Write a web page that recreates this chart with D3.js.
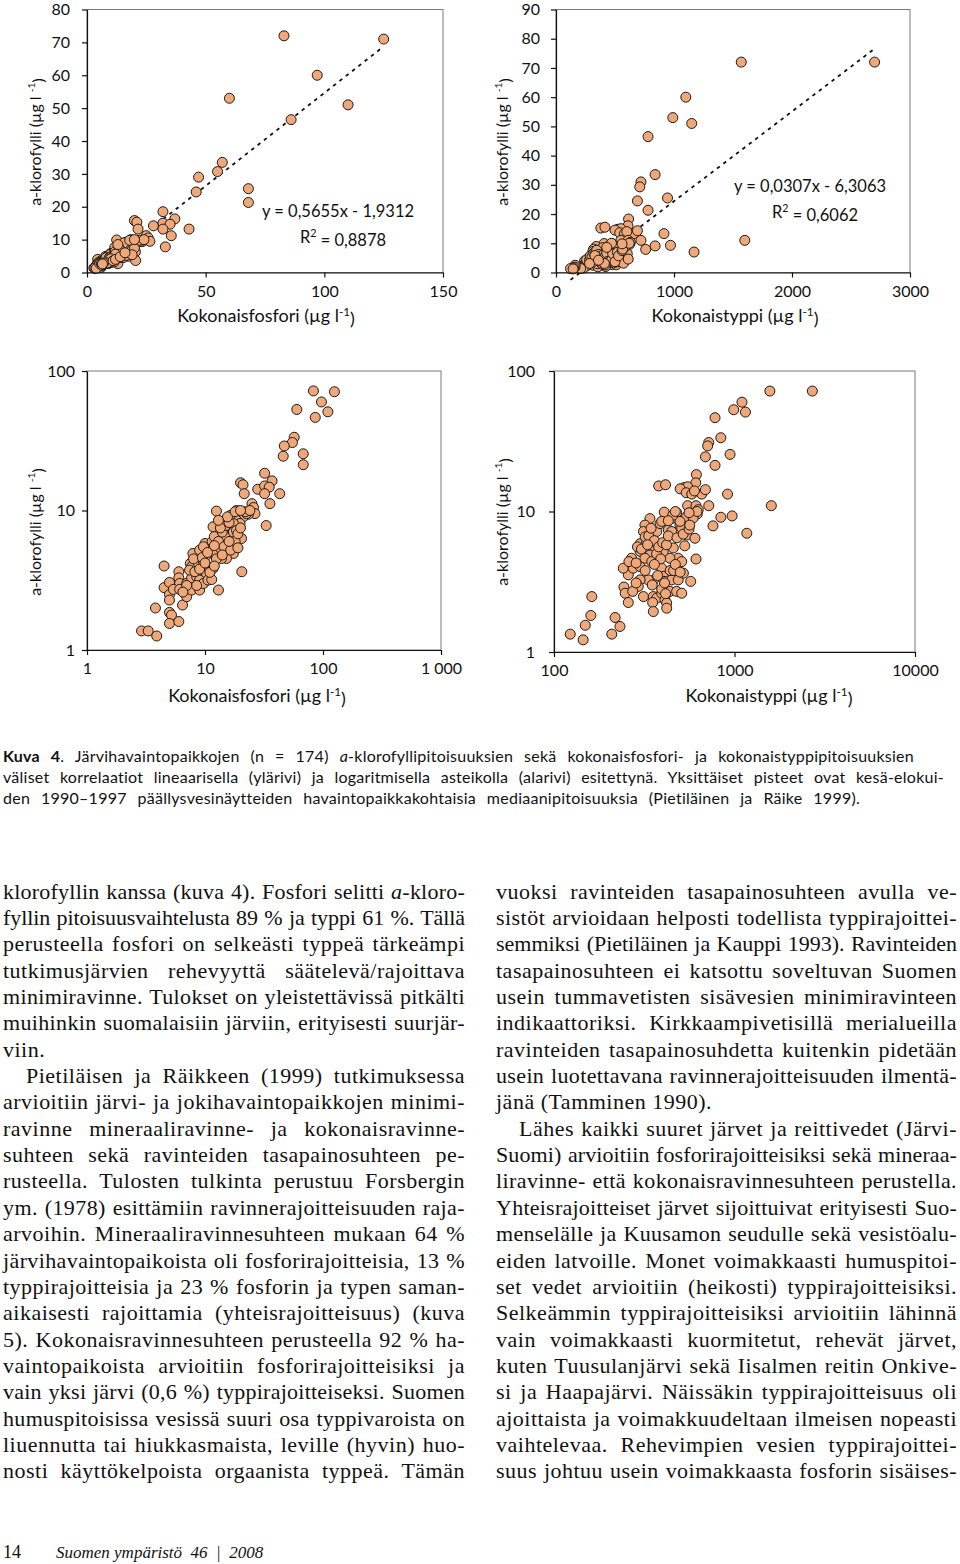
<!DOCTYPE html>
<meta charset="utf-8">
<style>
  body { margin: 0; background: #fff; }
  svg { display: block; }
</style>
<body>
<script src="https://d3js.org/d3.v7.min.js"></script>
<script>
// ---- data ----
// [kokonaisfosfori, a-klorofylli]
var tpChl = [
  [83,72],[125,71],[97,60],[60,53],[110,51],[86,46.5],[57,33.5],[55,30.7],[47,29],[46,24.5],[68,25.5],[68,21.3],
  [32,18.5],[37,16.3],[20,15.8],[21,15.3],[28,14.2],[32,15],[35,14.7],[21.5,13.2],[32,13.2],[43,13.2],[35.5,11.2],
  [25,11.2],[33,7.8],[12.5,9.9],[18.5,10],[20,9.3],[25.8,10.5],[26.5,9.5],[23.3,9.4],[21.1,9.0],
  [4.5,4.0],[4.5,2.8],[5,3.05],[5,2.5],[5,2.28],[3.8,2.0],[5,1.86],[5.2,1.78],[5,1.55],[6,1.6],[2.9,1.37],[3.3,1.37],[3.9,1.26],
  [6,3.64],[6,3.29],[6.1,3.0],[5.4,2.72],[6.1,2.72],[6.45,2.1],[7,2.41],[7.7,2.69],[7,3.0],[7.7,3.29],[7.9,4.92],[9,5.2],
  [7.5,4.17],[7.7,3.95],[8.5,3.35],[9,3.17],[9,2.69],[9.7,3.0],[10.3,3.54],[10.6,3.95],[11.7,3.84],[13,2.69],[12.7,5.26],
  [13,6.84],[11.7,7.64],[14.1,8.07],[15.2,7.43],[16.3,6.66],[17.4,5.8],[17.4,4.92],[15.2,4.53],[13.8,4.53],[17.4,9.0],
  [18.5,8.5],[19.8,8.07],[20.4,6.3],[20.5,3.64],[22.5,9.5],[17.4,8.07],[16.3,9.2],[10,5.8],[11,5.3],[11.7,4.92],[10.3,4.79],
  [8.8,4.17],[7.4,3.74],[8.2,3.64],[10.6,3.17],[9.7,4.17],[12.5,4.5],[11.4,3.2],[9.7,5.5],[13.4,5.4],[14.9,6.5],[17.4,7.0],
  [18.5,7.2],[17.9,5.7],[8,4.5],[9.5,4.6],[10.5,5.0],[11.5,6.0],[12,6.5],[13,6.0],[14,7.0],[15,7.8],[16,8.2],[14.5,5.5],
  [16.5,5.2],[18,6.0],[19,6.8],[20,7.5],[15.5,9.0],[13.5,7.5],[12,5.6],[9,3.8],[10,4.2],[8.5,2.9],[7,2.9],[6.5,2.6],
  [11,3.6],[12,4.0],[14,4.8],[18,9.8],[22,9.8],[19,5.4],[16,6.0],[24,10],[20,10],[13,8.5]
];
// [kokonaistyppi, a-klorofylli]
var tnChl = [
  [1570,72],[2700,72],[1100,60],[990,53],[1150,51],[780,46.5],[840,33.5],[720,31],[710,29.3],[945,25.5],[690,24.5],
  [780,21.3],[615,18.3],[610,16],[380,15.2],[415,15.5],[525,14.8],[550,15],[500,14.5],[540,13.6],[580,13.3],[658,13.3],
  [690,14.3],[600,14],[915,13.3],[1600,11],[720,11],[550,11],[612,11],[630,10.3],[622,9.6],[970,9.3],[840,9.1],[760,7.9],
  [1170,7.0],[408,9.9],[478,9.8],[449,8.9],[340,8.9],[319,8.0],[313,7.2],[300,5.9],[326,6.1],[355,7.4],[371,7.2],[387,8.2],
  [395,8.5],[430,7.4],[449,7.2],[499,8.0],[510,7.6],[543,6.8],[604,6.45],[543,9.2],[499,8.5],[458,5.5],[488,4.65],[510,4.4],
  [439,4.65],[403,5.2],[363,5.3],[340,4.9],[300,5.2],[269,4.65],[258,3.54],[242,3.95],[275,3.95],[300,4.06],[319,4.65],
  [348,4.4],[395,3.95],[403,3.45],[412,3.18],[355,3.23],[333,3.26],[300,3.26],[293,2.93],[244,2.9],[248,2.62],[273,2.7],
  [313,2.48],[355,2.48],[371,2.42],[395,2.62],[439,2.7],[478,2.7],[510,2.62],[449,3.26],[488,3.26],[521,3.64],[572,3.18],
  [612,4.59],[258,2.25],[352,2.25],[412,2.35],[421,2.23],[421,2.05],[355,1.94],[218,1.76],[232,1.52],[209,1.34],[162,2.48],
  [160,1.82],[149,1.55],[123,1.34],[145,1.22],
  [260,4.4],[285,4.3],[290,5.6],[305,5.4],[320,6.6],[335,6.7],[345,7.6],[360,6.2],[370,5.0],[380,5.6],[390,4.6],[400,6.0],
  [420,5.8],[430,6.7],[440,3.8],[460,3.8],[470,4.2],[480,6.5],[500,3.7],[520,6.9],[530,5.7],[560,7.5],[350,3.0],[375,3.5],
  [395,2.8],[415,2.6],[320,3.8],[285,3.1],[330,5.8],[455,9.4],[470,10],[430,8.6],[590,9.0],[565,8.0],[620,10],[560,9.8],
  [410,3.1],[360,4.2]
];

var tpFit = [0.5655, -1.9312];          // slope, intercept
var tnFit = [0.0307, -6.3063];
var tpEq = ["y = 0,5655x - 1,9312", "0,8878"];
var tnEq = ["y = 0,0307x - 6,3063", "0,6062"];

var tpTicksLin = [0, 50, 100, 150];
var tnTicksLin = [0, 1000, 2000, 3000];
var chlTicksTP = [0, 10, 20, 30, 40, 50, 60, 70, 80];
var chlTicksTN = [0, 10, 20, 30, 40, 50, 60, 70, 80, 90];
var tpTicksLog = [1, 10, 100, 1000];
var tpLogLabels = ["1", "10", "100", "1 000"];
var tnTicksLog = [100, 1000, 10000];
var tnLogLabels = ["100", "1000", "10000"];
var chlTicksLog = [1, 10, 100];
var chlLogLabels = ["1", "10", "100"];

var captionLines = [
  "**Kuva 4**. Järvihavaintopaikkojen (n = 174) *a*-klorofyllipitoisuuksien sekä kokonaisfosfori- ja kokonaistyppipitoisuuksien",
  "väliset korrelaatiot lineaarisella (ylärivi) ja logaritmisella asteikolla (alarivi) esitettynä. Yksittäiset pisteet ovat kesä-elokui-",
  "den 1990–1997 päällysvesinäytteiden havaintopaikkakohtaisia mediaanipitoisuuksia (Pietiläinen ja Räike 1999)."
];
var captionWidths = [911, 941, 857];

var leftLines = [
  "klorofyllin kanssa (kuva 4). Fosfori selitti *a*-kloro-",
  "fyllin pitoisuusvaihtelusta 89 % ja typpi 61 %. Tällä",
  "perusteella fosfori on selkeästi typpeä tärkeämpi",
  "tutkimusjärvien rehevyyttä säätelevä/rajoittava",
  "minimiravinne. Tulokset on yleistettävissä pitkälti",
  "muihinkin suomalaisiin järviin, erityisesti suurjär-",
  "viin.",
  "Pietiläisen ja Räikkeen (1999) tutkimuksessa",
  "arvioitiin järvi- ja jokihavaintopaikkojen minimi-",
  "ravinne mineraaliravinne- ja kokonaisravinne-",
  "suhteen sekä ravinteiden tasapainosuhteen pe-",
  "rusteella. Tulosten tulkinta perustuu Forsbergin",
  "ym. (1978) esittämiin ravinnerajoitteisuuden raja-",
  "arvoihin. Mineraaliravinnesuhteen mukaan 64 %",
  "järvihavaintopaikoista oli fosforirajoitteisia, 13 %",
  "typpirajoitteisia ja 23 % fosforin ja typen saman-",
  "aikaisesti rajoittamia (yhteisrajoitteisuus) (kuva",
  "5). Kokonaisravinnesuhteen perusteella 92 % ha-",
  "vaintopaikoista arvioitiin fosforirajoitteisiksi ja",
  "vain yksi järvi (0,6 %) typpirajoitteiseksi. Suomen",
  "humuspitoisissa vesissä suuri osa typpivaroista on",
  "liuennutta tai hiukkasmaista, leville (hyvin) huo-",
  "nosti käyttökelpoista orgaanista typpeä. Tämän"
];
var leftIndent = [7], leftLast = [6];

var rightLines = [
  "vuoksi ravinteiden tasapainosuhteen avulla ve-",
  "sistöt arvioidaan helposti todellista typpirajoittei-",
  "semmiksi (Pietiläinen ja Kauppi 1993). Ravinteiden",
  "tasapainosuhteen ei katsottu soveltuvan Suomen",
  "usein tummavetisten sisävesien minimiravinteen",
  "indikaattoriksi. Kirkkaampivetisillä merialueilla",
  "ravinteiden tasapainosuhdetta kuitenkin pidetään",
  "usein luotettavana ravinnerajoitteisuuden ilmentä-",
  "jänä (Tamminen 1990).",
  "Lähes kaikki suuret järvet ja reittivedet (Järvi-",
  "Suomi) arvioitiin fosforirajoitteisiksi sekä mineraa-",
  "liravinne- että kokonaisravinnesuhteen perustella.",
  "Yhteisrajoitteiset järvet sijoittuivat erityisesti Suo-",
  "menselälle ja Kuusamon seudulle sekä vesistöalu-",
  "eiden latvoille. Monet voimakkaasti humuspitoi-",
  "set vedet arvioitiin (heikosti) typpirajoitteisiksi.",
  "Selkeämmin typpirajoitteisiksi arvioitiin lähinnä",
  "vain voimakkaasti kuormitetut, rehevät järvet,",
  "kuten Tuusulanjärvi sekä Iisalmen reitin Onkive-",
  "si ja Haapajärvi. Näissäkin typpirajoitteisuus oli",
  "ajoittaista ja voimakkuudeltaan ilmeisen nopeasti",
  "vaihtelevaa. Rehevimpien vesien typpirajoittei-",
  "suus johtuu usein voimakkaasta fosforin sisäises-"
];
var rightIndent = [9], rightLast = [8];

// ---- drawing ----
var sans = "Lato, 'Open Sans', sans-serif";
var serif = "'Liberation Serif', 'DejaVu Serif', serif";

var svg = d3.select("body").append("svg")
  .attr("width", 960)
  .attr("height", 1564)
  .style("font-family", sans)

function withSup(sel, before, sup, after) {
  sel.append("tspan").text(before)
  sel.append("tspan").attr("font-size", "0.65em").attr("dy", "-0.55em").text(sup)
  sel.append("tspan").attr("dy", "0.55em").text(after)
}

function panel(o) {
  var g = svg.append("g")
  var x = (o.log ? d3.scaleLog() : d3.scaleLinear()).domain(o.xDomain).range([o.left, o.right])
  var y = (o.log ? d3.scaleLog() : d3.scaleLinear()).domain(o.yDomain).range([o.bottom, o.top])

  g.append("rect")
    .attr("x", o.left).attr("y", o.top)
    .attr("width", o.right - o.left).attr("height", o.bottom - o.top)
    .attr("fill", "none").attr("stroke", "#7a7a7a").attr("stroke-width", 1)

  if (o.fit) {
    var ext = d3.extent(o.data, function (d) { return d[0] })
    g.append("line")
      .attr("x1", x(ext[0])).attr("y1", y(o.fit[0] * ext[0] + o.fit[1]))
      .attr("x2", x(ext[1])).attr("y2", y(o.fit[0] * ext[1] + o.fit[1]))
      .attr("stroke", "#111").attr("stroke-width", 1.8)
      .attr("stroke-dasharray", "3.5,4.5")
  }

  g.append("g").selectAll("circle")
    .data(o.data)
    .enter().append("circle")
      .attr("cx", function (d) { return x(d[0]) })
      .attr("cy", function (d) { return y(d[1]) })
      .attr("r", 5)
      .attr("fill", "#f0a878")
      .attr("stroke", "#1a1a1a")
      .attr("stroke-width", 1)

  var xAxis = d3.axisBottom(x).tickValues(o.xTicks).tickSize(5).tickSizeOuter(0).tickPadding(8)
    .tickFormat(o.xLabels ? function (d, i) { return o.xLabels[i] } : d3.format("d"))
  var yAxis = d3.axisLeft(y).tickValues(o.yTicks).tickSize(5).tickSizeOuter(0).tickPadding(o.yPad)
    .tickFormat(o.yLabels ? function (d, i) { return o.yLabels[i] } : d3.format("d"))

  var gx = g.append("g").attr("transform", "translate(0," + o.bottom + ")").call(xAxis)
  var gy = g.append("g").attr("transform", "translate(" + o.left + ",0)").call(yAxis)
  ;[gx, gy].forEach(function (a) {
    a.selectAll("path, line").attr("stroke", "#111").attr("stroke-width", 1.2)
    a.selectAll("text").attr("font-family", sans).attr("font-size", 16).attr("fill", "#111")
  })

  var xt = g.append("text")
    .attr("x", o.xTitle[1]).attr("y", o.xTitle[2])
    .attr("text-anchor", "middle").attr("font-size", 18).attr("fill", "#111")
  withSup(xt, o.xTitle[0] + " (µg l", "-1", ")")

  var yt = g.append("text")
    .attr("transform", "translate(" + o.yTitle[0] + "," + o.yTitle[1] + ") rotate(-90)")
    .attr("text-anchor", "middle").attr("dy", "0.35em").attr("font-size", 16).attr("fill", "#111")
  withSup(yt, "a-klorofylli (µg l ", "-1", ")")

  if (o.eq) {
    g.append("text")
      .attr("x", o.eqPos[0]).attr("y", o.eqPos[1])
      .attr("text-anchor", "middle").attr("font-size", 16.5).attr("fill", "#111")
      .text(o.eq[0])
    var r2 = g.append("text")
      .attr("x", o.eqPos[0] + 5).attr("y", o.eqPos[1] + 26)
      .attr("text-anchor", "middle").attr("font-size", 16.5).attr("fill", "#111")
    withSup(r2, "R", "2", " = " + o.eq[1])
  }
}

panel({ left: 87, right: 443, top: 9.5, bottom: 272.5, xDomain: [0, 150], yDomain: [0, 80],
  xTicks: tpTicksLin, yTicks: chlTicksTP, yPad: 12, data: tpChl, fit: tpFit, eq: tpEq, eqPos: [338, 217],
  xTitle: ["Kokonaisfosfori", 266, 322], yTitle: [35, 142] })

panel({ left: 556, right: 910, top: 9.5, bottom: 272.5, xDomain: [0, 3000], yDomain: [0, 90],
  xTicks: tnTicksLin, yTicks: chlTicksTN, yPad: 11, data: tnChl, fit: tnFit, eq: tnEq, eqPos: [810, 192],
  xTitle: ["Kokonaistyppi", 735, 322], yTitle: [502, 142] })

panel({ log: true, left: 87, right: 441, top: 371, bottom: 650, xDomain: [1, 1000], yDomain: [1, 100],
  xTicks: tpTicksLog, xLabels: tpLogLabels, yTicks: chlTicksLog, yLabels: chlLogLabels, yPad: 7, data: tpChl,
  xTitle: ["Kokonaisfosfori", 257, 702], yTitle: [35, 532] })

panel({ log: true, left: 554, right: 915, top: 371, bottom: 652, xDomain: [100, 10000], yDomain: [1, 100],
  xTicks: tnTicksLog, xLabels: tnLogLabels, yTicks: chlTicksLog, yLabels: chlLogLabels, yPad: 14, data: tnChl,
  xTitle: ["Kokonaistyppi", 769, 702], yTitle: [502, 522] })

// ---- text blocks ----
function richLine(x, y, str, size, family, spacing) {
  var t = svg.append("text").attr("x", x).attr("y", y)
    .attr("font-family", family).attr("font-size", size).attr("fill", "#111")
    .style("letter-spacing", spacing + "px")
  str.split(/(\*\*[^*]+\*\*|\*[^*]+\*)/).forEach(function (part) {
    if (!part) return
    var ts = t.append("tspan")
    if (part.indexOf("**") === 0) ts.attr("font-weight", "bold").text(part.slice(2, -2))
    else if (part.charAt(0) === "*") ts.attr("font-style", "italic").text(part.slice(1, -1))
    else ts.text(part)
  })
  return t
}

// spread a line to width; if it is too long, tighten letters first
function justify(t, width, spacing) {
  var node = t.node()
  var natural = node.getComputedTextLength()
  var chars = node.textContent.length
  var spaces = (node.textContent.match(/ /g) || []).length
  if (natural > width - spaces) {
    t.style("letter-spacing", (spacing + (width - spaces - natural) / chars) + "px")
    natural = node.getComputedTextLength()
  }
  if (spaces > 0) t.style("word-spacing", ((width - natural) / spaces) + "px")
}

captionLines.forEach(function (line, i) {
  var t = richLine(3, 762 + i * 21, line, 16, sans, 0.25)
  justify(t, captionWidths[i], 0.25)
})

function column(lines, x0, width, indent, last) {
  lines.forEach(function (line, i) {
    var ind = indent.indexOf(i) > -1 ? 23 : 0
    var t = richLine(x0 + ind, 898.5 + i * 26.36, line, 22, serif, 0.5)
    if (last.indexOf(i) < 0) justify(t, width - ind, 0.5)
  })
}
column(leftLines, 3, 462, leftIndent, leftLast)
column(rightLines, 496, 461, rightIndent, rightLast)

svg.append("text").attr("x", 3).attr("y", 1558)
  .attr("font-family", serif).attr("font-size", 18).attr("fill", "#111").text("14")
svg.append("text").attr("x", 56).attr("y", 1558)
  .attr("font-family", serif).attr("font-size", 17).attr("font-style", "italic").attr("fill", "#111")
  .style("white-space", "pre")
  .text("Suomen ympäristö  46  |  2008")
</script>
</body>
